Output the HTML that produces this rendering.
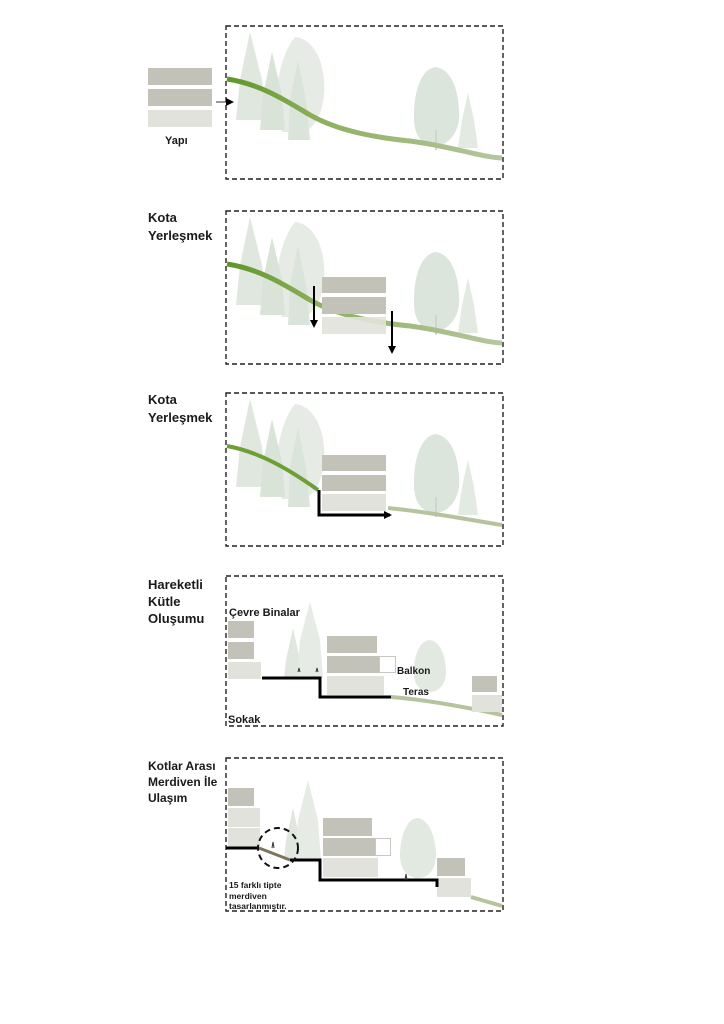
<!DOCTYPE html>
<html><head><meta charset="utf-8"><style>
html,body{margin:0;padding:0;background:#fff;}
svg{display:block;}
text{font-family:"Liberation Sans",sans-serif;font-weight:bold;fill:#1a1a1a;}
</style></head><body>
<svg width="724" height="1024" viewBox="0 0 724 1024" xmlns="http://www.w3.org/2000/svg">
<defs>
<linearGradient id="g" x1="0" x2="1" y1="0" y2="0">
<stop offset="0" stop-color="#5f9628"/><stop offset="0.35" stop-color="#8fb060"/><stop offset="1" stop-color="#b7c6a0"/>
</linearGradient>
<g id="lt">
<path d="M250,32 L262,80 L266,120 L236,120 L240,80 Z" fill="#dfe7de"/>
<path d="M295,37 C310,38 322,55 324,80 C326,105 318,125 305,132 L282,132 C272,110 276,60 295,37 Z" fill="#e6ece5"/>
<path d="M272,52 L282,95 L285,130 L260,130 L263,95 Z" fill="#d9e3d8"/>
<path d="M298,60 L306,100 L310,140 L288,140 L290,100 Z" fill="#dbe4da"/>
</g>
<g id="rt">
<path d="M436,67 C452,70 458,90 459,110 C461,130 450,145 436,146 C422,146 413,135 414,115 C414,90 422,68 436,67 Z" fill="#dce5db"/>
<rect x="435" y="130" width="2" height="20" fill="#cdd8cc"/>
<path d="M468,93 L474,120 L478,148 L458,148 L462,120 Z" fill="#e3eae2"/>
</g>
<marker id="ah" markerWidth="8" markerHeight="8" refX="6" refY="4" orient="auto" markerUnits="userSpaceOnUse"><path d="M0,0 L8,4 L0,8 Z" fill="#000"/></marker>
</defs>
<g fill="none" stroke="#222" stroke-width="1.4" stroke-dasharray="5,3">
<rect x="226" y="26" width="277" height="153"/>
<rect x="226" y="211" width="277" height="153"/>
<rect x="226" y="393" width="277" height="153"/>
<rect x="226" y="576" width="277" height="150"/>
<rect x="226" y="758" width="277" height="153"/>
</g>
<!-- Panel 1 -->
<use href="#lt"/><use href="#rt"/>
<path d="M227,79 C260,84 285,100 310,115 C340,132 380,138 410,141 C450,146 480,157 502,158" stroke="url(#g)" stroke-width="5" fill="none"/>
<rect x="148" y="68" width="64" height="17" fill="#c2c2b8"/>
<rect x="148" y="89" width="64" height="17" fill="#c2c2b8"/>
<rect x="148" y="110" width="64" height="17" fill="#e2e2dc"/>
<line x1="216" y1="102" x2="232" y2="102" stroke="#333" stroke-width="1" marker-end="url(#ah)"/>
<text x="165" y="144" font-size="11">Yapı</text>
<!-- Panel 2 -->
<text x="148" y="222" font-size="13">Kota</text>
<text x="148" y="240" font-size="13">Yerleşmek</text>
<g transform="translate(0,185)"><use href="#lt"/><use href="#rt"/>
<path d="M227,79 C260,84 285,100 310,115 C340,132 380,138 410,141 C450,146 480,157 502,158" stroke="url(#g)" stroke-width="5" fill="none"/></g>
<rect x="322" y="277" width="64" height="16" fill="#c2c2b8"/>
<rect x="322" y="297" width="64" height="17" fill="#c2c2b8"/>
<rect x="322" y="317" width="64" height="17" fill="#e2e2dc" opacity="0.9"/>
<line x1="314" y1="286" x2="314" y2="326" stroke="#000" stroke-width="2" marker-end="url(#ah)"/>
<line x1="392" y1="311" x2="392" y2="352" stroke="#000" stroke-width="2" marker-end="url(#ah)"/>
<!-- Panel 3 -->
<text x="148" y="404" font-size="13">Kota</text>
<text x="148" y="422" font-size="13">Yerleşmek</text>
<g transform="translate(0,367)"><use href="#lt"/><use href="#rt"/></g>
<path d="M227,446 C260,452 290,470 318,490" stroke="#6e9e36" stroke-width="4" fill="none"/>
<path d="M388,508 C430,512 470,520 502,525" stroke="#b5c49e" stroke-width="4" fill="none"/>
<rect x="322" y="455" width="64" height="16" fill="#c2c2b8"/>
<rect x="322" y="475" width="64" height="16" fill="#c2c2b8"/>
<rect x="322" y="494" width="64" height="17" fill="#e2e2dc"/>
<polyline points="319,490 319,515 390,515" stroke="#000" stroke-width="3" fill="none" marker-end="url(#ah)"/>
<!-- Panel 4 -->
<text x="148" y="589" font-size="13">Hareketli</text>
<text x="148" y="606" font-size="13">Kütle</text>
<text x="148" y="623" font-size="13">Oluşumu</text>
<text x="229" y="616" font-size="11">Çevre Binalar</text>
<path d="M293,628 L300,660 L302,678 L284,678 L286,660 Z" fill="#dfe7de"/>
<path d="M310,602 L320,640 L323,678 L297,678 L300,640 Z" fill="#e6ece5"/>
<path d="M430,640 C442,642 446,660 446,672 C446,685 438,692 430,692 C420,692 413,684 414,670 C414,655 420,640 430,640 Z" fill="#e2e9e1"/>
<rect x="228" y="621" width="26" height="17" fill="#c2c2b8"/>
<rect x="228" y="642" width="26" height="17" fill="#c2c2b8"/>
<rect x="228" y="662" width="33" height="17" fill="#e2e2dc"/>
<rect x="327" y="636" width="50" height="17" fill="#c2c2b8"/>
<rect x="327" y="656" width="52" height="17" fill="#c2c2b8"/>
<rect x="379.5" y="656.5" width="16" height="16" fill="#fff" stroke="#c8c8c0" stroke-width="1"/>
<rect x="327" y="676" width="57" height="19" fill="#e2e2dc"/>
<polyline points="262,678 320,678 320,697 391,697" stroke="#000" stroke-width="3" fill="none"/>
<path d="M391,697 C430,700 470,708 502,715" stroke="#b5c49e" stroke-width="4" fill="none"/>
<rect x="472" y="676" width="25" height="16" fill="#c2c2b8"/>
<rect x="472" y="695" width="30" height="17" fill="#e2e2dc"/>
<text x="397" y="674" font-size="10">Balkon</text>
<text x="403" y="695" font-size="10">Teras</text>
<text x="228" y="723" font-size="11">Sokak</text>
<path d="M298,672 l1,-4 l1,4 M316,672 l1,-4 l1,4" stroke="#333" stroke-width="1" fill="none"/>
<!-- Panel 5 -->
<text x="148" y="770" font-size="12">Kotlar Arası</text>
<text x="148" y="786" font-size="12">Merdiven İle</text>
<text x="148" y="802" font-size="12">Ulaşım</text>
<path d="M293,808 L300,840 L302,860 L284,860 L286,840 Z" fill="#dfe7de"/>
<path d="M308,780 L318,820 L321,860 L295,860 L298,820 Z" fill="#e6ece5"/>
<path d="M418,818 C430,820 436,840 436,855 C436,870 428,878 418,878 C408,878 400,870 400,855 C400,838 406,818 418,818 Z" fill="#e2e9e1"/>
<rect x="228" y="788" width="26" height="18" fill="#c2c2b8"/>
<rect x="228" y="808" width="32" height="19" fill="#e2e2dc"/>
<rect x="228" y="828" width="32" height="19" fill="#e2e2dc"/>
<rect x="323" y="818" width="49" height="18" fill="#c2c2b8"/>
<rect x="323" y="838" width="52" height="18" fill="#c2c2b8"/>
<rect x="375.5" y="838.5" width="15" height="17" fill="#fff" stroke="#c8c8c0"/>
<rect x="323" y="858" width="55" height="19" fill="#e2e2dc"/>
<rect x="437" y="858" width="28" height="18" fill="#c2c2b8"/>
<rect x="437" y="878" width="34" height="19" fill="#e2e2dc"/>
<polyline points="226,848 259,848" stroke="#000" stroke-width="3" fill="none"/>
<line x1="259" y1="848" x2="290" y2="860" stroke="#7d7360" stroke-width="3"/>
<polyline points="290,860 320,860 320,880 437,880 437,887" stroke="#000" stroke-width="3" fill="none"/>
<path d="M471,897 C485,901 495,904 502,906" stroke="#b5c49e" stroke-width="4" fill="none"/>
<circle cx="278" cy="848" r="20" fill="none" stroke="#111" stroke-width="2" stroke-dasharray="6,4"/>
<path d="M272,848 l1,-6 l1,6 M405,880 l1,-6 l1,6" stroke="#333" stroke-width="1" fill="none"/>
<text x="229" y="888" font-size="8.5">15 farklı tipte</text>
<text x="229" y="899" font-size="8.5">merdiven</text>
<text x="229" y="909" font-size="8.5">tasarlanmıştır.</text>
</svg>
</body></html>
